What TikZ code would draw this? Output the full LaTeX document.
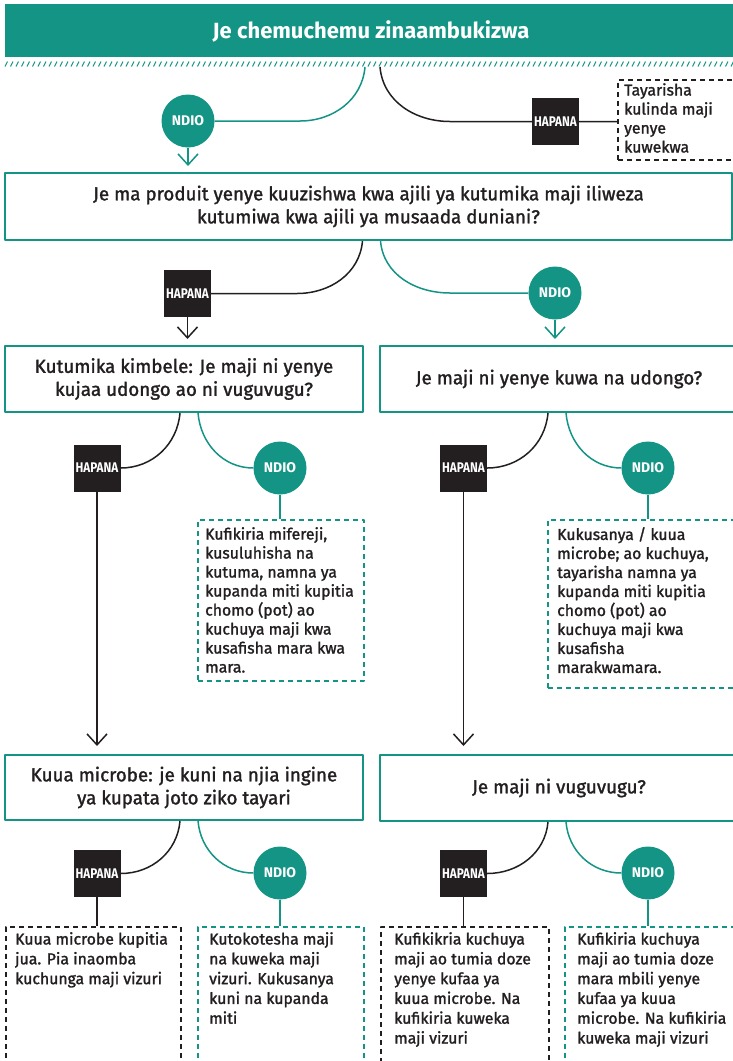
\documentclass[tikz,border=0pt]{standalone}
\usepackage{fontspec}
\usepackage{graphicx}
\setmainfont{Fira Sans}[UprightFeatures={FakeBold=1.5}]
\usetikzlibrary{arrows.meta}
\definecolor{xanh}{HTML}{139485}
\definecolor{muc}{HTML}{231F20}
\newcommand\hepl[1]{\scalebox{0.84}[1]{#1}}
\begin{document}
\begin{tikzpicture}[x=1pt, y=1pt, line join=round, >={Straight Barb[length=11pt,width=20pt]},
	hoi/.style={draw=xanh, line width=2pt, fill=white, text=muc, align=center, inner sep=0pt, font=\fontsize{18.8}{23}\selectfont},
	co/.style={circle, fill=xanh, text=white, minimum size=53pt, inner sep=0pt, font=\bfseries\fontsize{14}{14}\selectfont},
	khong/.style={fill=muc, text=white, minimum size=47pt, inner sep=0pt, font=\bfseries\fontsize{14}{14}\selectfont},
	goiy/.style={draw=#1, line width=1.5pt, dash pattern=on 5pt off 4pt, anchor=north west, inner sep=0pt},
	chu/.style={anchor=north west, align=left, inner sep=0pt, text=muc, font=\fontsize{15.8}{19}\selectfont},
	dcx/.style={draw=xanh, line width=1.5pt},
	dcd/.style={draw=muc, line width=1.5pt}]
	\useasboundingbox (0,0) rectangle (733,-1061);
	\fill[xanh] (5,-4) rectangle (735,-57);
	\node[text=white, font=\bfseries\fontsize{22}{22}\selectfont] (T) at (371,-31) {Je chemuchemu zinaambukizwa};
	\foreach \i in {0,...,133} \draw[xanh, line width=1pt] ({5+5.5*\i},-66.5) -- ++(2.5,5);
	\coordinate (c1) at (365,-67);
	\coordinate (c2) at (380,-67);
	\node[co] (y0) at (188,-121) {NDIO};
	\node[khong] (n0) at (555.5,-121.5) {\hepl{HAPANA}};
	\node[goiy=muc, minimum width=125pt, minimum height=80pt] (g0) at (617,-79) {};
	\node[chu] at (624,-83) {Tayarisha\\kulinda maji\\yenye\\kuwekwa};
	\draw[dcx] (c1) to[out=-95,in=0] (300,-121) -- (y0);
	\draw[dcd] (c2) to[out=-85,in=180] (450,-121.5) -- (n0) -- (n0 -| g0.west);
	\node[hoi, minimum width=727pt, minimum height=67pt] (q1) at (368.5,-206.5) {Je ma produit yenye kuuzishwa kwa ajili ya kutumika maji iliweza\\kutumiwa kwa ajili ya musaada duniani?};
	\draw[->, dcx, shorten >=6pt] (y0) -- (y0 |- q1.north);
	\node[khong] (n1) at (187.5,-293.5) {\hepl{HAPANA}};
	\node[co] (y1) at (555,-293) {NDIO};
	\draw[dcd] ([xshift=-6pt]q1.south) to[out=-95,in=0] (297,-293.5) -- (n1);
	\draw[dcx] ([xshift=12pt]q1.south) to[out=-85,in=180] (450,-293) -- (y1);
	\node[hoi, minimum width=358pt, minimum height=66pt] (q2) at (184,-379) {Kutumika kimbele: Je maji ni yenye\\kujaa udongo ao ni vuguvugu?};
	\node[hoi, minimum width=358pt, minimum height=66pt] (q3) at (559,-379) {Je maji ni yenye kuwa na udongo?};
	\draw[->, dcd, shorten >=6pt] (n1) -- (n1 |- q2.north);
	\draw[->, dcx, shorten >=6pt] (y1) -- (y1 |- q3.north);
	\node[khong] (n2) at (97,-468) {\hepl{HAPANA}};
	\node[co] (y2) at (280,-468) {NDIO};
	\node[khong] (n3) at (463.5,-468) {\hepl{HAPANA}};
	\node[co] (y3) at (648,-468) {NDIO};
	\draw[dcd] ([xshift=-4pt]q2.south) to[out=-95,in=0] (n2);
	\draw[dcx] ([xshift=14pt]q2.south) to[out=-85,in=180] (y2);
	\draw[dcd] ([xshift=-11pt]q3.south) to[out=-95,in=0] (n3);
	\draw[dcx] ([xshift=7pt]q3.south) to[out=-85,in=180] (y3);
	\node[goiy=xanh, minimum width=166pt, minimum height=161pt] (g1) at (197,-519) {};
	\node[chu] at (205,-527) {Kufikiria mifereji,\\kusuluhisha na\\kutuma, namna ya\\kupanda miti kupitia\\chomo (pot) ao\\kuchuya maji kwa\\kusafisha mara kwa\\mara.};
	\node[goiy=xanh, minimum width=190pt, minimum height=168pt] (g2) at (547,-519) {};
	\node[chu] at (557,-527) {Kukusanya / kuua\\microbe; ao kuchuya,\\tayarisha namna ya\\kupanda miti kupitia\\chomo (pot) ao\\kuchuya maji kwa\\kusafisha\\marakwamara.};
	\draw[dcx] (y2) -- (y2 |- g1.north);
	\draw[dcx] (y3) -- (y3 |- g2.north);
	\node[hoi, minimum width=358pt, minimum height=65pt] (q4) at (184,-787.5) {Kuua microbe: je kuni na njia ingine\\ya kupata joto ziko tayari};
	\node[hoi, minimum width=358pt, minimum height=66pt] (q5) at (559,-788) {Je maji ni vuguvugu?};
	\draw[->, dcd, shorten >=8pt] (n2) -- (n2 |- q4.north);
	\draw[->, dcd, shorten >=8pt] (n3) -- (n3 |- q5.north);
	\node[khong] (n4) at (97,-873.5) {\hepl{HAPANA}};
	\node[co] (y4) at (280,-873) {NDIO};
	\node[khong] (n5) at (463.5,-873.5) {\hepl{HAPANA}};
	\node[co] (y5) at (648,-873) {NDIO};
	\draw[dcd] ([xshift=-4pt]q4.south) to[out=-95,in=0] (n4);
	\draw[dcx] ([xshift=14pt]q4.south) to[out=-85,in=180] (y4);
	\draw[dcd] ([xshift=-11pt]q5.south) to[out=-95,in=0] (n5);
	\draw[dcx] ([xshift=7pt]q5.south) to[out=-85,in=180] (y5);
	\node[goiy=muc, minimum width=175pt, minimum height=145pt] (g3) at (5,-926) {};
	\node[goiy=xanh, minimum width=166pt, minimum height=145pt] (g4) at (197,-926) {};
	\node[goiy=muc, minimum width=168pt, minimum height=145pt] (g5) at (380,-926) {};
	\node[goiy=xanh, minimum width=175pt, minimum height=145pt] (g6) at (564,-926) {};
	\foreach \n/\g in {n4/g3,y4/g4,n5/g5}\draw[dcd] (\n) -- (\n |- \g.north);
	\draw[dcx] (y4) -- (y4 |- g4.north);
	\draw[dcx] (y5) -- (y5 |- g6.north);
	\node[chu, font=\fontsize{15.8}{19.8}\selectfont] at (15,-932) {Kuua microbe kupitia\\jua. Pia inaomba\\kuchunga maji vizuri};
	\node[chu, font=\fontsize{15.8}{19.8}\selectfont] at (209,-932) {Kutokotesha maji\\na kuweka maji\\vizuri. Kukusanya\\kuni na kupanda\\miti};
	\node[chu, font=\fontsize{15.8}{19.8}\selectfont] at (394,-932) {Kufikikria kuchuya\\maji ao tumia doze\\yenye kufaa ya\\kuua microbe. Na\\kufikiria kuweka\\maji vizuri};
	\node[chu, font=\fontsize{15.8}{19.8}\selectfont] at (577,-932) {Kufikiria kuchuya\\maji ao tumia doze\\mara mbili yenye\\kufaa ya kuua\\microbe. Na kufikiria\\kuweka maji vizuri};
\end{tikzpicture}
\end{document}
